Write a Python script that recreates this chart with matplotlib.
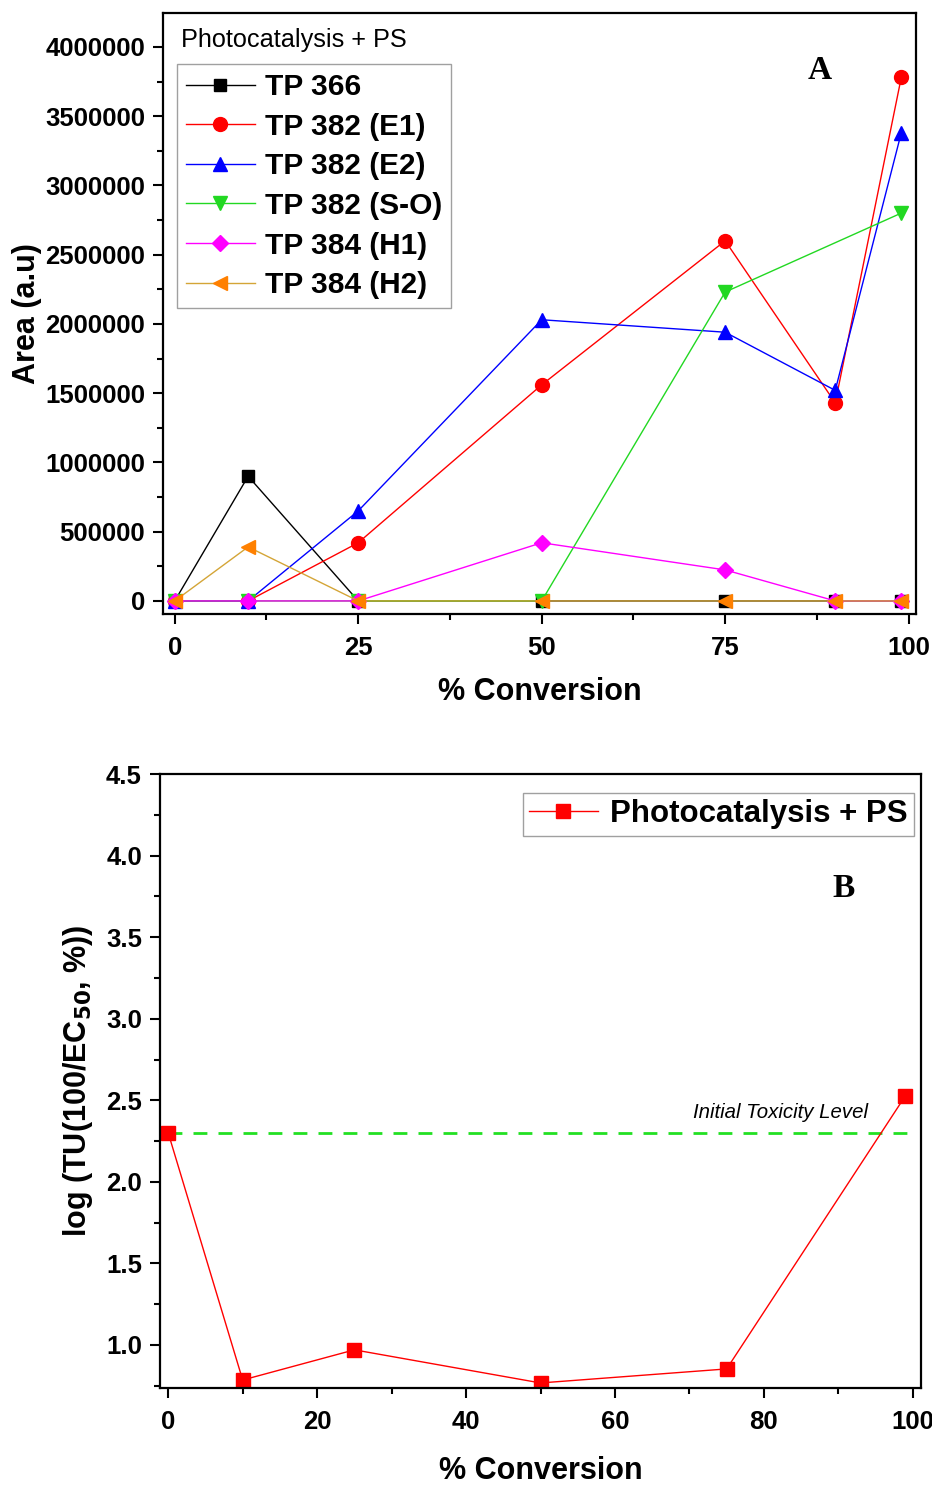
import numpy as np
import matplotlib
matplotlib.use("Agg")
import matplotlib.pyplot as plt
from matplotlib.ticker import MultipleLocator

plt.rcParams['font.family'] = ['Liberation Sans', 'DejaVu Sans']

# panel A data
conv = [0, 10, 25, 50, 75, 90, 99]
conv_so = [0, 10, 25, 50, 75, 99]
tp366 = [0, 900000, 0, 0, 0, 0, 0]
tp382_e1 = [0, 0, 420000, 1560000, 2600000, 1430000, 3780000]
tp382_e2 = [0, 0, 650000, 2030000, 1940000, 1520000, 3380000]
tp382_so = [0, 0, 0, 0, 2230000, 2800000]
tp384_h1 = [0, 0, 0, 420000, 224000, 0, 0]
tp384_h2 = [0, 390000, 0, 0, 0, 0, 0]

# panel B data
conv_b = [0, 10, 25, 50, 75, 99]
log_tu = [2.30, 0.785, 0.97, 0.767, 0.853, 2.527]
initial_level = 2.30

fig = plt.figure(figsize=(9.32, 14.88), dpi=100)
axA = fig.add_axes([0.1749, 0.5874, 0.8079, 0.4039])
axB = fig.add_axes([0.1717, 0.0672, 0.8165, 0.4126])


def style_axis(ax):
    for s in ax.spines.values():
        s.set_linewidth(1.6)
    ax.tick_params(which='both', direction='out', top=False, right=False, width=1.5)
    ax.tick_params(which='major', length=7, labelsize=18.5, pad=6)
    ax.tick_params(axis='x', which='major', pad=9)
    ax.tick_params(which='minor', length=4)
    for lab in ax.get_xticklabels() + ax.get_yticklabels():
        lab.set_fontweight('bold')


ms = 10
axA.plot(conv, tp366, '-s', color='black', lw=1, ms=ms - 1.5, label='TP 366')
axA.plot(conv, tp382_e1, '-o', color='#FF0000', lw=1, ms=ms, label='TP 382 (E1)')
axA.plot(conv, tp382_e2, '-^', color='#0000FF', lw=1, ms=ms, label='TP 382 (E2)')
axA.plot(conv_so, tp382_so, '-v', color='#22D822', lw=1, ms=ms, label='TP 382 (S-O)')
axA.plot(conv, tp384_h1, '-D', color='#FF00FF', lw=1, ms=ms - 2, label='TP 384 (H1)')
axA.plot(conv, tp384_h2, '-<', color='#D4A537', mfc='#FF8000', mec='#FF8000',
         lw=1, ms=ms, label='TP 384 (H2)')

axA.set_xlim(-1.6, 101)
axA.set_ylim(-94000, 4245000)
axA.xaxis.set_major_locator(MultipleLocator(25))
axA.xaxis.set_minor_locator(MultipleLocator(12.5))
axA.yaxis.set_major_locator(MultipleLocator(500000))
axA.yaxis.set_minor_locator(MultipleLocator(250000))
axA.yaxis.set_major_formatter(plt.FuncFormatter(lambda v, p: f"{int(round(v))}"))
style_axis(axA)
axA.set_xlabel('% Conversion', fontsize=22, fontweight='bold', labelpad=12)
axA.set_ylabel('Area (a.u)', fontsize=22, fontweight='bold', labelpad=2)

leg = axA.legend(loc='upper left', bbox_to_anchor=(0.0186, 0.915), borderaxespad=0,
                 prop={'size': 21.5, 'weight': 'bold'}, frameon=True, fancybox=False,
                 edgecolor='#888888', handlelength=2.3, handletextpad=0.35,
                 labelspacing=0.39, borderpad=0.3)
leg.get_frame().set_linewidth(1)
axA.text(0.024, 0.955, 'Photocatalysis + PS', transform=axA.transAxes,
         fontsize=18.2, ha='left', va='center')
axA.text(0.872, 0.905, 'A', transform=axA.transAxes, fontsize=24,
         fontweight='bold', family='Liberation Serif', ha='center', va='center')

# panel B
axB.hlines(initial_level, 0, 100, colors='#22E022', linestyles=(0, (5, 4)), lw=2)
axB.plot(conv_b, log_tu, '-s', color='#FF0000', lw=1, ms=10, label='Photocatalysis + PS')
axB.set_xlim(-1.1, 101.1)
axB.set_ylim(0.736, 4.5)
axB.xaxis.set_major_locator(MultipleLocator(20))
axB.xaxis.set_minor_locator(MultipleLocator(10))
axB.yaxis.set_major_locator(MultipleLocator(0.5))
axB.yaxis.set_minor_locator(MultipleLocator(0.25))
axB.yaxis.set_major_formatter(plt.FuncFormatter(lambda v, p: f"{v:.1f}"))
style_axis(axB)
axB.set_xlabel('% Conversion', fontsize=22, fontweight='bold', labelpad=16)
axB.set_ylabel('log (TU(100/EC$_{\\mathbf{50}}$, %))', fontsize=22, fontweight='bold',
               labelpad=8)
legB = axB.legend(loc='upper right', bbox_to_anchor=(0.9908, 0.969), borderaxespad=0,
                  prop={'size': 22.5, 'weight': 'bold'}, frameon=True, fancybox=False,
                  edgecolor='#888888', handlelength=2.2, handletextpad=0.4,
                  borderpad=0.2)
legB.get_frame().set_linewidth(1)
axB.text(0.930, 0.448, 'Initial Toxicity Level', transform=axB.transAxes,
         fontsize=14.7, style='italic', ha='right', va='center')
axB.text(0.898, 0.813, 'B', transform=axB.transAxes, fontsize=24,
         fontweight='bold', family='Liberation Serif', ha='center', va='center')

fig.savefig('out.png', dpi=100)
